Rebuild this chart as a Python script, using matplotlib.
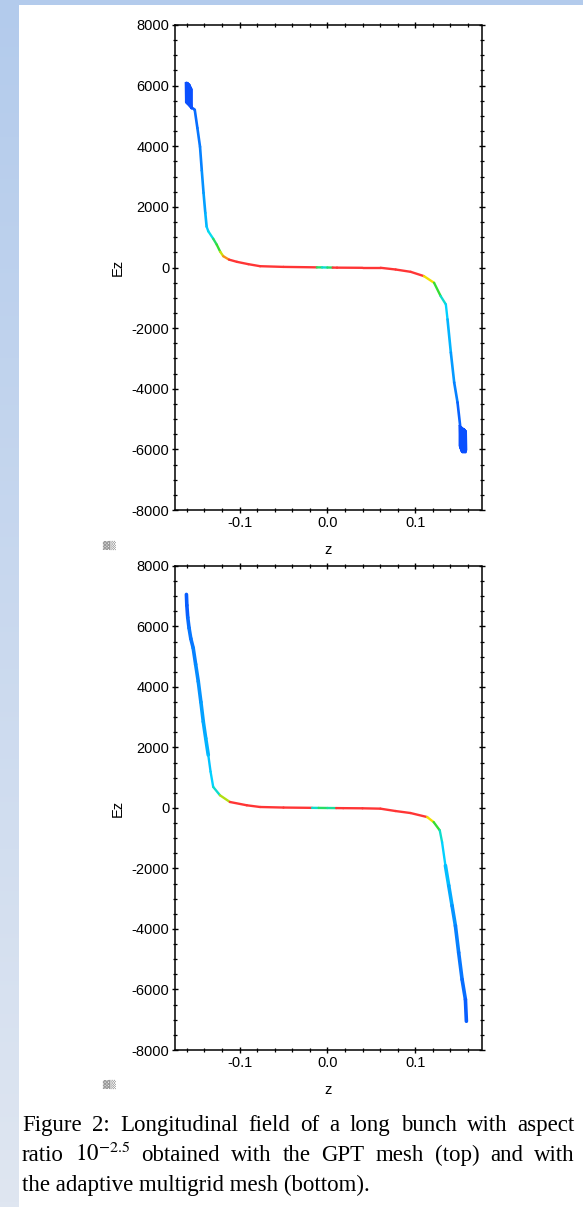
import numpy as np
import matplotlib
matplotlib.use("Agg")
import matplotlib.pyplot as plt
from matplotlib.collections import LineCollection
from matplotlib.colors import LinearSegmentedColormap

plt.rcParams['font.family'] = ['Liberation Sans', 'DejaVu Sans']
plt.rcParams['mathtext.fontset'] = 'stix'
plt.rcParams['axes.unicode_minus'] = False

# ---- data (z, Ez, colour value 0=blue ... 1=red) ----
top_z = [-0.153, -0.151, -0.148, -0.145, -0.143, -0.141, -0.139, -0.1375, -0.1356, -0.130,
         -0.126, -0.122, -0.1185, -0.112, -0.103, -0.090, -0.0766, -0.050, -0.012, -0.006,
         0.000, 0.006, 0.011, 0.040, 0.0606, 0.0777, 0.0949, 0.110, 0.1215, 0.129,
         0.1349, 0.1368, 0.1406, 0.1444, 0.1482, 0.1512]
top_ez = [5250, 5200, 4600, 3980, 3200, 2460, 1800, 1350, 1195, 950,
          756, 520, 372, 260, 187, 110, 43, 20, 5, 3,
          0, -3, -5, -10, -10, -66, -143, -285, -505, -943,
          -1217, -1711, -2806, -3793, -4451, -5220]
top_c = [0.05, 0.08, 0.1, 0.12, 0.15, 0.18, 0.22, 0.26, 0.32, 0.45,
         0.5, 0.62, 0.72, 0.85, 0.9, 1.0, 1.0, 1.0, 0.45, 0.35,
         0.55, 0.45, 1.0, 1.0, 1.0, 1.0, 0.95, 0.85, 0.65, 0.5,
         0.35, 0.28, 0.22, 0.17, 0.12, 0.06]

# oscillating blocks at the bunch ends (top)
top_blob_l_z = [-0.1612, -0.1609, -0.1605, -0.1601, -0.1597, -0.1593, -0.1589, -0.1585, -0.1581,
                -0.1577, -0.1573, -0.1569, -0.1565, -0.1561, -0.1557, -0.1553, -0.1549, -0.1545, -0.1541]
top_blob_l_ez = [6080, 5450, 6100, 5420, 6060, 5400, 6090, 5380, 6050,
                 5350, 6040, 5330, 6000, 5300, 5950, 5270, 5900, 5240, 5250]
top_blob_r_z = [0.1505, 0.1509, 0.1513, 0.1517, 0.1521, 0.1525, 0.1529, 0.1533, 0.1537,
                0.1541, 0.1545, 0.1549, 0.1553, 0.1557, 0.1561, 0.1565, 0.1569, 0.1573, 0.1577, 0.1581]
top_blob_r_ez = [-5230, -5900, -5250, -5980, -5260, -6050, -5280, -6080, -5300,
                 -6100, -5320, -6080, -5330, -6100, -5350, -6050, -5380, -6100, -5400, -6000]

bot_z = [-0.1605, -0.1600, -0.1590, -0.1575, -0.1555, -0.1528, -0.150, -0.147, -0.144, -0.1413,
         -0.1385, -0.1356, -0.133, -0.130, -0.1223, -0.111, -0.0918, -0.0766, -0.050, -0.0175,
         -0.010, 0.000, 0.010, 0.018, 0.040, 0.0604, 0.0775, 0.0946, 0.1136, 0.121,
         0.128, 0.1306, 0.1344, 0.1382, 0.142, 0.1458, 0.1495, 0.1534, 0.1572, 0.1583]
bot_ez = [7060, 6700, 6300, 5950, 5600, 5290, 4750, 4183, 3500, 2855,
          2300, 1750, 1200, 697, 421, 199, 90, 33, 15, 5,
          3, 0, -3, -5, -10, -22, -100, -166, -299, -465,
          -741, -1129, -1903, -2567, -3231, -3895, -4781, -5667, -6331, -7050]
bot_c = [0.05, 0.05, 0.08, 0.1, 0.1, 0.12, 0.14, 0.16, 0.18, 0.2,
         0.22, 0.25, 0.28, 0.35, 0.6, 0.85, 0.95, 1.0, 1.0, 0.35,
         0.45, 0.5, 0.4, 1.0, 1.0, 1.0, 1.0, 0.95, 0.85, 0.65,
         0.5, 0.35, 0.28, 0.24, 0.2, 0.16, 0.12, 0.1, 0.08, 0.05]

yticks = [-8000, -6000, -4000, -2000, 0, 2000, 4000, 6000, 8000]
xticks = [-0.1, 0.0, 0.1]
xticklabels = ['-0.1', '0.0', '0.1']

caption = [
    "Figure 2:  Longitudinal field of a long bunch with aspect",
    r"ratio $10^{-2.5}$ obtained with the GPT mesh (top) and with",
    "the adaptive multigrid mesh (bottom).",
]

cmap = LinearSegmentedColormap.from_list(
    'rb', [(0.0, '#0a46ff'), (0.3, '#00dcff'), (0.5, '#33dd33'),
           (0.65, '#f2e000'), (0.8, '#ff3535'), (1.0, '#ff3535')])

W, H = 583, 1207
fig = plt.figure(figsize=(W / 100, H / 100), dpi=100)

# slide background strips
grad = np.linspace(0, 1, 256).reshape(-1, 1)
bg_cmap = LinearSegmentedColormap.from_list('bg', ['#b3cbec', '#dfe6f1'])
axl = fig.add_axes([0, 0, 19 / W, 1])
axl.imshow(grad, aspect='auto', cmap=bg_cmap, extent=[0, 1, 0, 1], origin='upper')
axl.axis('off')
axt = fig.add_axes([0, 1 - 5 / H, 1, 5 / H])
axt.set_facecolor('#b3cbec')
axt.set_xticks([]); axt.set_yticks([])
for s in axt.spines.values():
    s.set_visible(False)


def draw_panel(ax, z, ez, c, blobs, steep_lw):
    pts = np.column_stack([z, ez]).reshape(-1, 1, 2)
    segs = np.concatenate([pts[:-1], pts[1:]], axis=1)
    cc = np.asarray(c)
    # left side of the bunch takes the colour of the segment end nearer the tail
    cseg = np.where(np.asarray(z)[:-1] < 0, cc[:-1], cc[1:])
    lws = np.where(cseg < 0.25, steep_lw, 1.7)
    lc = LineCollection(segs, cmap=cmap, norm=plt.Normalize(0, 1), linewidths=lws,
                        capstyle='round')
    lc.set_array(cseg)
    ax.add_collection(lc)
    for bz, be in blobs:
        ax.plot(bz, be, color='#0a50ff', lw=1.6, zorder=3)

    ax.set_xlim(-0.1735, 0.1755)
    ax.set_ylim(-8000, 8000)
    ax.set_xticks(xticks)
    ax.set_xticklabels(xticklabels)
    ax.set_yticks(yticks)
    ax.set_xticks(np.arange(-0.16, 0.1601, 0.02), minor=True)
    ax.set_yticks(np.arange(-8000, 8001, 500), minor=True)
    ax.tick_params(which='major', direction='inout', length=5, width=1.0,
                   top=True, right=True, labelsize=10.5, pad=1.5, colors='black')
    ax.tick_params(which='minor', direction='inout', length=3, width=0.9,
                   top=True, right=True)
    for s in ax.spines.values():
        s.set_linewidth(1.1)
    ax.set_xlabel('z', fontsize=10.5)
    ax.set_ylabel('Ez', fontsize=10.5)
    ax.xaxis.set_label_coords(0.5, -0.068)
    ax.yaxis.set_label_coords(-0.165, 0.5)
    ax.text(-0.215, -0.072, '\u2593\u2592', transform=ax.transAxes, fontsize=6.5,
            color='#9a9a9a', ha='center', va='center', family='DejaVu Sans')


ax1 = fig.add_axes([175 / W, 1 - 510 / H, 306.5 / W, 485 / H])
draw_panel(ax1, top_z, top_ez, top_c,
           [(top_blob_l_z, top_blob_l_ez), (top_blob_r_z, top_blob_r_ez)], 1.9)
ax2 = fig.add_axes([175 / W, 1 - 1050 / H, 306.5 / W, 484 / H])
draw_panel(ax2, bot_z, bot_ez, bot_c, [], 2.6)

# caption, justified lines
renderer = fig.canvas.get_renderer()
x0, x1 = 22, 575
fs = 16.5
baselines = [1131, 1161, 1191]
for i, line in enumerate(caption):
    yf = 1 - baselines[i] / H
    if i == len(caption) - 1:
        fig.text(x0 / W, yf, line, fontsize=fs, family='Liberation Serif', va='baseline')
        continue
    words = line.replace('  ', ' ').split(' ')
    texts = [fig.text(0, yf, w, fontsize=fs, family='Liberation Serif', va='baseline')
             for w in words]
    widths = [t.get_window_extent(renderer).width for t in texts]
    gap = (x1 - x0 - sum(widths)) / (len(words) - 1)
    x = x0
    for t, w in zip(texts, widths):
        t.set_x(x / W)
        x += w + gap

fig.savefig('out.png', dpi=100)
